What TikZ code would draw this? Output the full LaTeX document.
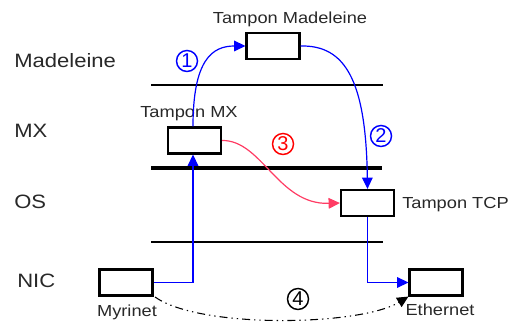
\documentclass[tikz,border=0pt]{standalone}
\usepackage{fontspec}
\setmainfont{Liberation Sans}
\newfontfamily\bigf[FakeStretch=1.14]{Liberation Sans}
\newfontfamily\smallf[FakeStretch=1.14]{Liberation Sans}
\usetikzlibrary{arrows.meta}
\definecolor{myblue}{RGB}{0,0,255}
\definecolor{myred}{RGB}{255,60,100}
\definecolor{txt}{RGB}{40,40,40}
\begin{document}
\begin{tikzpicture}[x=0.75pt,y=-0.75pt,
  buf/.style={draw,line width=1.6pt,minimum width=53*0.75pt,minimum height=26*0.75pt,inner sep=0pt,fill=white},
  layer/.style={font=\bigf\fontsize{14.5pt}{16pt}\selectfont,text=txt,anchor=west,inner sep=0pt},
  lbl/.style={font=\smallf\fontsize{12pt}{13pt}\selectfont,text=txt,inner sep=0pt},
  num/.style={circle,draw,line width=1.1pt,inner sep=0pt,minimum size=21*0.75pt,font=\fontsize{15pt}{16pt}\selectfont},
  tip/.style={-{Triangle[length=8.5pt,width=8pt]}},
  sep/.style={line width=0.8pt},
]
\useasboundingbox (0,0) rectangle (510,323);
% layer labels
\node[layer] (lmad) at (14,61) {Madeleine};
\node[layer] (lmx) at (14,131) {MX};
\node[layer] (los) at (14,202) {OS};
\node[layer] (lnic) at (17,281) {NIC};
% separators
\coordinate (s1a) at (151,85); \coordinate (s1b) at (383,85);
\coordinate (s2a) at (151,168); \coordinate (s2b) at (382,168);
\coordinate (s3a) at (151,242); \coordinate (s3b) at (383,242);
\draw[sep] (s1a) -- (s1b);
\draw[line width=3.2pt] (s2a) -- (s2b);
\draw[sep] (s3a) -- (s3b);
% buffers
\node[buf] (bmad) at (273,46) {};
\node[buf] (bmx) at (194.5,140.5) {};
\node[buf] (btcp) at (367.5,203) {};
\node[buf] (bmyr) at (126,282.5) {};
\node[buf] (beth) at (436,282.5) {};
% labels
\node[lbl] (tmad) at (290,19) {Tampon Madeleine};
\node[lbl] (tmx) at (189,114) {Tampon MX};
\node[lbl,anchor=west] (ttcp) at (402,205) {Tampon TCP};
\node[lbl] (tmyr) at (127,312) {Myrinet};
\node[lbl] (teth) at (440,310) {Ethernet};
% connectors
\coordinate (k1) at (193,282.5);
\draw[myblue,line width=0.9pt,tip] (bmyr.east) -- (k1) -- (bmx.south -| k1);
\draw[myblue,line width=0.9pt,tip] (bmx.north -| k1) .. controls (193,60) and (212,46) .. (bmad.west);
\draw[myblue,line width=0.9pt,tip] (bmad.east) .. controls (345,45) and (366,80) .. (btcp.north);
\draw[myred,line width=0.9pt,tip] (bmx.east) .. controls (262,140) and (278,205) .. (btcp.west);
\coordinate (k2) at (367.5,282.5);
\draw[myblue,line width=0.9pt,tip] (btcp.south) -- (k2) -- (beth.west);
\coordinate (c4a) at (155,297);
\draw[black,line width=0.8pt,dash pattern=on 6pt off 3pt on 1pt off 3pt on 1pt off 3pt,tip] (c4a) .. controls (200,329) and (360,326) .. (beth.south west);
% numbers
\node[num,myblue] (n1) at (187,61) {1};
\node[num,myblue] (n2) at (381,136) {2};
\node[num,red] (n3) at (283,144) {3};
\node[num,black] (n4) at (298,299) {4};
\end{tikzpicture}
\end{document}
